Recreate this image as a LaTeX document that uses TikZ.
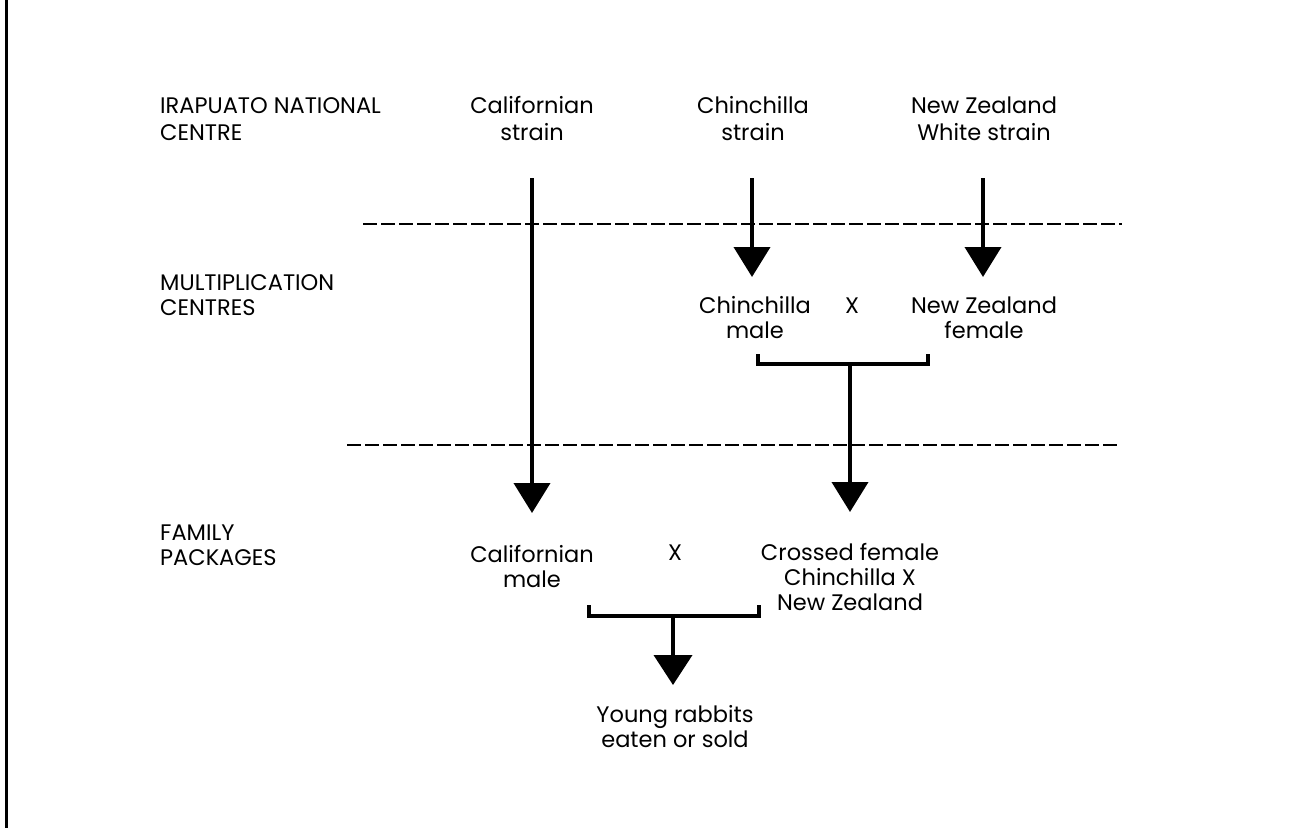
\documentclass[tikz,border=0pt]{standalone}
\usepackage{fontspec}
\setmainfont{Poppins}
\usetikzlibrary{arrows.meta}
\begin{document}
\begin{tikzpicture}[x=1pt,y=-1pt,
  lbl/.style={font=\fontsize{22.5}{25}\selectfont, inner sep=0pt, align=center, anchor=base},
  toplbl/.style={lbl, font=\fontsize{22.5}{27}\selectfont},
  side/.style={font=\fontsize{22.5}{25}\selectfont, inner sep=0pt, align=left, anchor=base west},
  topside/.style={side, font=\fontsize{22.5}{27}\selectfont},
  arr/.style={line width=4pt, -{Triangle[width=36pt,length=30pt]}},
  sep/.style={line width=2.5pt, dash pattern=on 14pt off 4pt},
  brk/.style={line width=4pt, line join=miter}]
\useasboundingbox (0,0) rectangle (1314,828);
% left border
\coordinate (bT) at (6.5,0);
\coordinate (bB) at (6.5,828);
\draw[line width=3pt] (bT) -- (bB);
% level labels (anchored at the baseline of the last line)
\node[topside] (irap) at (160,140) {IRAPUATO NATIONAL\\CENTRE};
\node[side] (mult) at (160,315) {MULTIPLICATION\\CENTRES};
\node[side] (fam) at (160,565) {FAMILY\\PACKAGES};
% top strains
\node[toplbl] (calstrain) at (532,140) {Californian\\strain};
\node[toplbl] (chstrain) at (753,140) {Chinchilla\\strain};
\node[toplbl] (nzstrain) at (984,140) {New Zealand\\White strain};
% middle
\node[lbl] (chmale) at (755,338) {Chinchilla\\male};
\node[lbl] (x1) at (852,313) {X};
\node[lbl] (nzfemale) at (984,338) {New Zealand\\female};
% bottom
\node[lbl] (calmale) at (532,587) {Californian\\male};
\node[lbl] (x2) at (675,560) {X};
\node[lbl] (crossed) at (850,610) {Crossed female\\Chinchilla X\\New Zealand};
\node[lbl] (young) at (675,747) {Young rabbits\\eaten or sold};
% dashed separators
\coordinate (d1a) at (363,224); \coordinate (d1b) at (1122,224);
\coordinate (d2a) at (347,445); \coordinate (d2b) at (1117,445);
\draw[sep] (d1a) -- (d1b);
\draw[sep] (d2a) -- (d2b);
% arrows from strains
\coordinate (calA) at (532,178); \coordinate (calB) at (532,513);
\coordinate (chA) at (752,178); \coordinate (chB) at (752,277);
\coordinate (nzA) at (983,178); \coordinate (nzB) at (983,277);
\draw[arr] (calA) -- (calB);
\draw[arr] (chA) -- (chB);
\draw[arr] (nzA) -- (nzB);
% upper cross bracket
\coordinate (b1l) at (758,354); \coordinate (b1r) at (928,354);
\coordinate (b1m) at (850,364); \coordinate (b1t) at (850,512);
\draw[brk] (b1l) |- (b1r |- b1m) -- (b1r);
\draw[arr] (b1m) -- (b1t);
% lower cross bracket
\coordinate (b2l) at (589,605); \coordinate (b2r) at (759,605);
\coordinate (b2m) at (673,616); \coordinate (b2t) at (673,685);
\draw[brk] (b2l) |- (b2r |- b2m) -- (b2r);
\draw[line width=4pt, -{Triangle[width=38pt,length=30pt]}] (b2m) -- (b2t);
\end{tikzpicture}
\end{document}
